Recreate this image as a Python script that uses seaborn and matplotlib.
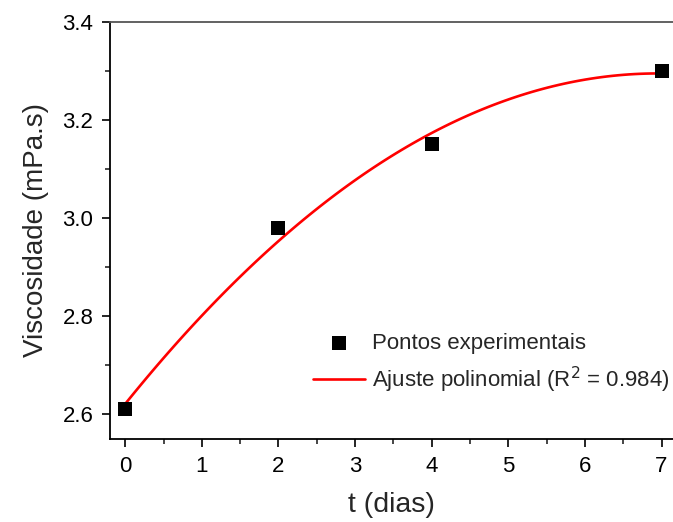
import matplotlib
matplotlib.use("Agg")
import matplotlib.pyplot as plt
import seaborn as sns
import numpy as np
import pandas as pd
from matplotlib.ticker import MultipleLocator

t_dias = [0, 2, 4, 7]
viscosidade = [2.61, 2.98, 3.15, 3.30]
x_ticks = [0, 1, 2, 3, 4, 5, 6, 7]
y_ticks = [2.6, 2.8, 3.0, 3.2, 3.4]

sns.set_theme(style="ticks")
plt.rcParams['font.family'] = ['Liberation Sans', 'DejaVu Sans']

df = pd.DataFrame({"t": t_dias, "v": viscosidade})

fig = plt.figure(figsize=(6.73, 5.22), dpi=100)
ax = fig.add_axes([0.1634, 0.159, 0.8366, 0.799])

fit_label = "Ajuste polinomial (R$^2$ = 0.984)"
pts_label = "Pontos experimentais"

sns.regplot(data=df, x="t", y="v", order=2, ci=None, scatter=False,
            label=fit_label, line_kws=dict(color="#ff0000", lw=1.9), ax=ax)
sns.scatterplot(data=df, x="t", y="v", marker="s", s=110, color="black",
                edgecolor="black", linewidth=0, ax=ax, label=pts_label, zorder=3)

ax.set_xlim(-0.2, 7.15)
ax.set_ylim(2.548, 3.4)
ax.set_xticks(x_ticks)
ax.set_yticks(y_ticks)
ax.set_yticklabels([f"{v:.1f}" for v in y_ticks])
ax.xaxis.set_minor_locator(MultipleLocator(0.5))
ax.yaxis.set_minor_locator(MultipleLocator(0.1))
ax.tick_params(axis="both", which="major", direction="out", length=6, width=1.2,
               labelsize=16, colors="black", pad=6)
ax.tick_params(axis="both", which="minor", direction="out", length=3.5, width=1.2)
ax.tick_params(top=False, right=False, which="both")
for sp in ax.spines.values():
    sp.set_linewidth(1.3)
    sp.set_color("black")
ax.spines["right"].set_visible(False)
ax.spines["top"].set_color("#555555")

ax.set_xlabel("t (dias)", fontsize=20.5, labelpad=11)
ax.set_ylabel("Viscosidade (mPa.s)", fontsize=20, labelpad=10)

handles, labels = ax.get_legend_handles_labels()
lookup = dict(zip(labels, handles))
ax.legend([lookup[pts_label], lookup[fit_label]], [pts_label, fit_label],
          loc="upper left", bbox_to_anchor=(0.36, 0.255), frameon=False,
          fontsize=16, handlelength=2.35, handletextpad=0.3, labelspacing=0.5,
          borderaxespad=0, borderpad=0, markerscale=1.0)

fig.savefig("out.png", dpi=100)
